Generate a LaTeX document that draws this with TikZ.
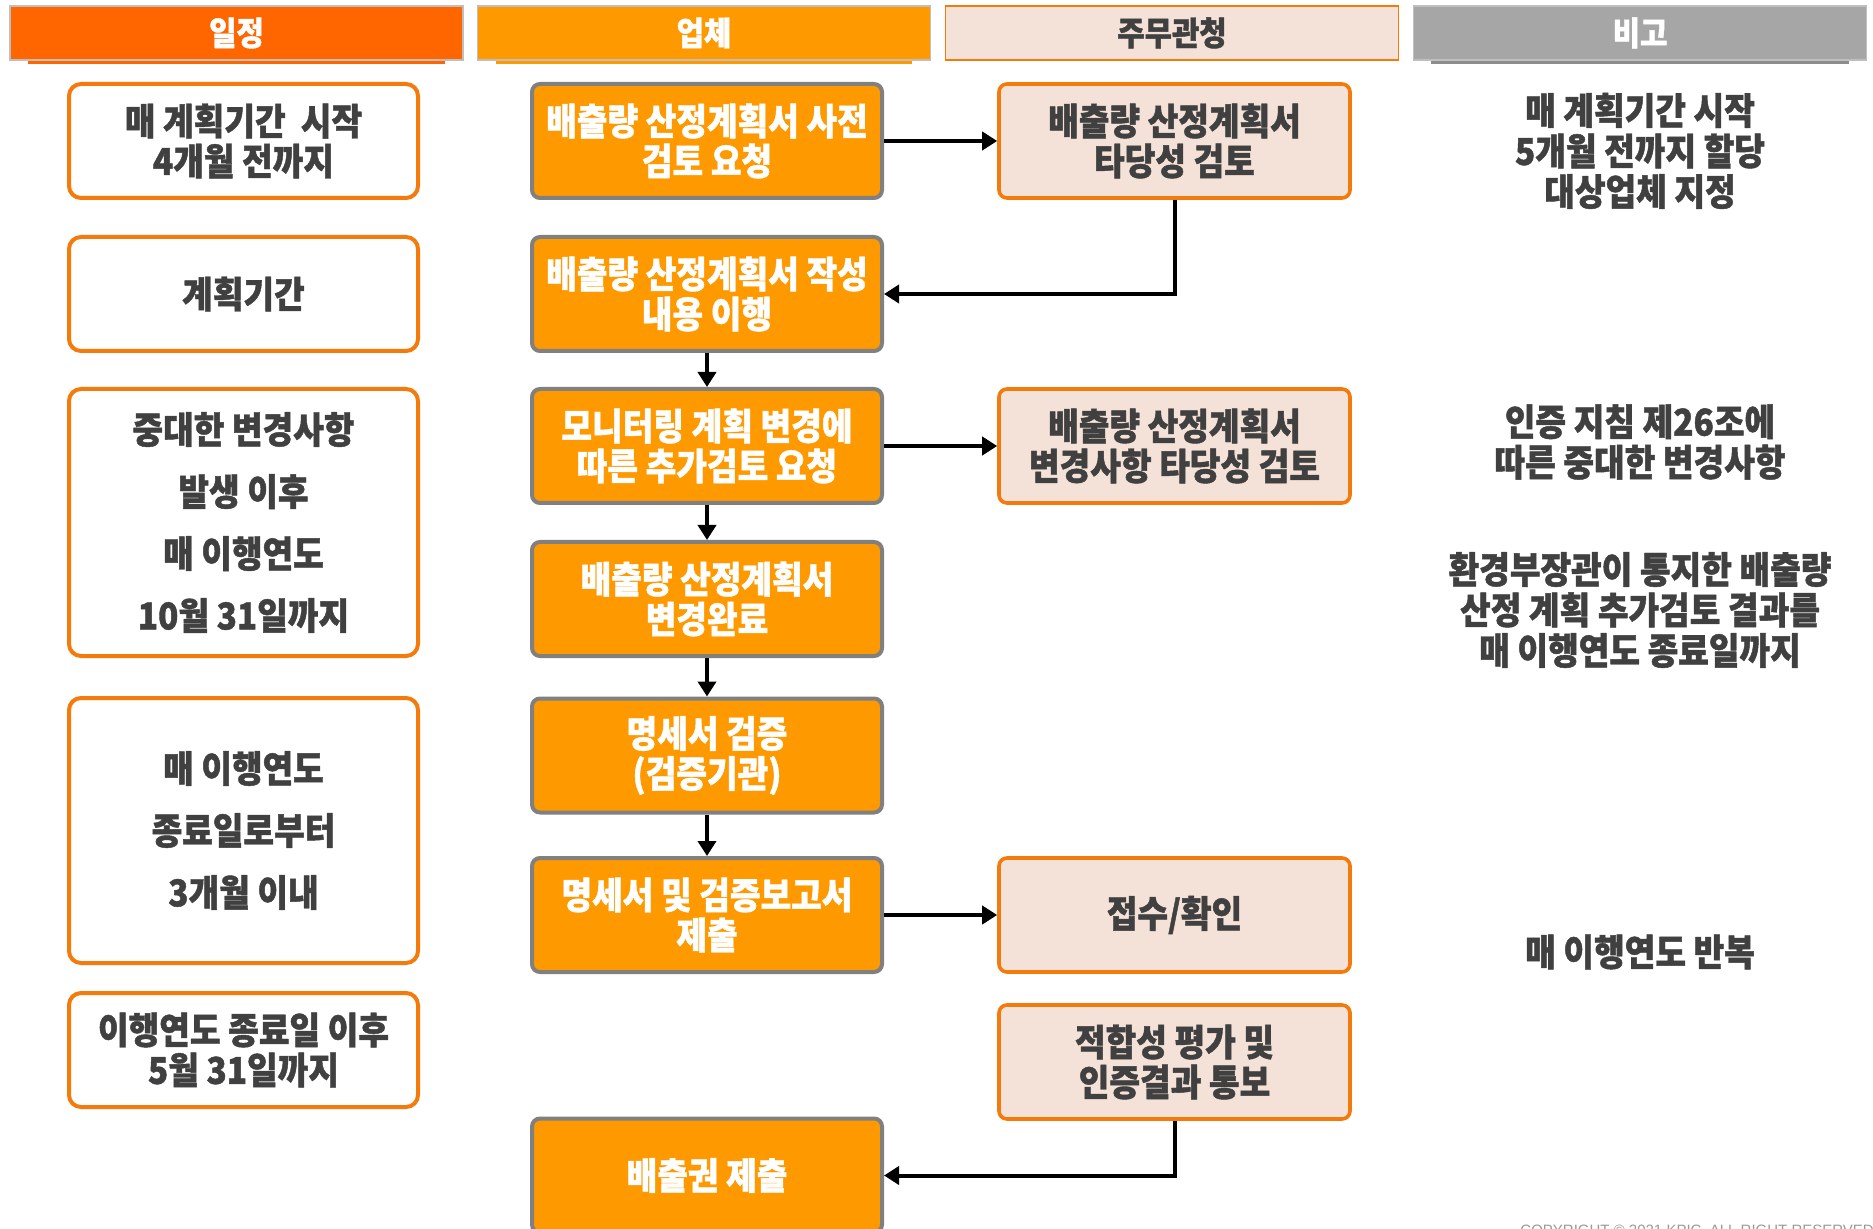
\documentclass[tikz,border=0pt]{standalone}
\usepackage{fontspec}
\setmainfont{Noto Sans CJK KR}[FakeStretch=0.9, BoldFeatures={FakeBold=1.2}]
\newfontfamily\latfont{Liberation Sans}
\usetikzlibrary{arrows.meta}
\definecolor{hdrA}{HTML}{FF6600}
\definecolor{amber}{HTML}{FF9900}
\definecolor{pinkF}{HTML}{F4E2D8}
\definecolor{lineO}{HTML}{F57A0C}
\definecolor{grayB}{HTML}{808080}
\definecolor{darkT}{HTML}{404040}
\definecolor{hdrG}{HTML}{A6A6A6}
\definecolor{hdrLine}{HTML}{BFBFBF}
\tikzset{
  hdr/.style={minimum width=226.5pt, minimum height=27pt, inner sep=0pt, line width=0.6pt,
    font=\fontsize{16.5}{18}\selectfont\bfseries},
  lbox/.style={draw=lineO, line width=2pt, fill=white, rounded corners=6pt,
    minimum width=174.5pt, minimum height=57pt, inner sep=0pt, align=center, text=darkT,
    font=\fontsize{18.5}{20}\selectfont\bfseries},
  lboxtall/.style={lbox, font=\fontsize{18.5}{31}\selectfont\bfseries},
  mbox/.style={draw=grayB, line width=2pt, fill=amber, rounded corners=4pt,
    minimum width=175pt, minimum height=57pt, inner sep=0pt, align=center, text=white,
    font=\fontsize{18.5}{20}\selectfont\bfseries},
  rbox/.style={draw=lineO, line width=1.8pt, fill=pinkF, rounded corners=4pt,
    minimum width=175.5pt, minimum height=57pt, inner sep=0pt, align=center, text=darkT,
    font=\fontsize{18.5}{20}\selectfont\bfseries},
  note/.style={align=center, text=darkT, inner sep=0pt,
    font=\fontsize{18.5}{20.25}\selectfont\bfseries},
  arr/.style={line width=2pt, -{Triangle[length=7.5pt,width=9pt]}},
}
\begin{document}
\begin{tikzpicture}[x=0.5pt,y=-0.5pt]
\useasboundingbox (0,0) rectangle (1873,1229);
\fill[white] (0,0) rectangle (1873,1229);
% header shadows
\fill[hdrA] (28,56) rectangle (445,64);
\fill[amber] (496,56) rectangle (912,64);
\fill[grayB!90] (1431,56) rectangle (1849,64);
% headers
\node[hdr, fill=hdrA, draw=hdrLine, text=white] (h1) at (236.5,33) {일정};
\node[hdr, fill=amber, draw=hdrLine, text=white] (h2) at (704,33) {업체};
\node[hdr, fill=pinkF, draw=lineO, text=darkT] (h3) at (1172,33) {주무관청};
\node[hdr, fill=hdrG, draw=hdrLine, text=white] (h4) at (1640,33) {비고};
% left column
\node[lbox] (l1) at (243.5,141) {매 계획기간\ \ 시작\\4개월 전까지};
\node[lbox] (l2) at (243.5,294) {계획기간};
\node[lboxtall, minimum height=133.5pt] (l3) at (243.5,522.5) {중대한 변경사항\\발생 이후\\매 이행연도\\10월 31일까지};
\node[lboxtall, minimum height=132.5pt] (l4) at (243.5,830.5) {매 이행연도\\종료일로부터\\3개월 이내};
\node[lbox] (l5) at (243.5,1050) {이행연도 종료일 이후\\5월 31일까지};
% middle column
\node[mbox] (m1) at (707,141) {배출량 산정계획서 사전\\검토 요청};
\node[mbox] (m2) at (707,294) {배출량 산정계획서 작성\\내용 이행};
\node[mbox] (m3) at (707,446) {모니터링 계획 변경에\\따른 추가검토 요청};
\node[mbox] (m4) at (707,599) {배출량 산정계획서\\변경완료};
\node[mbox] (m5) at (707,755.5) {명세서 검증\\(검증기관)};
\node[mbox] (m6) at (707,915) {명세서 및 검증보고서\\제출};
\node[mbox] (m7) at (707,1175.5) {배출권 제출};
% right column
\node[rbox] (r1) at (1174.5,141) {배출량 산정계획서\\타당성 검토};
\node[rbox] (r2) at (1174.5,446) {배출량 산정계획서\\변경사항 타당성 검토};
\node[rbox] (r3) at (1174.5,915) {접수/확인};
\node[rbox] (r4) at (1174.5,1062) {적합성 평가 및\\인증결과 통보};
% notes
\node[note] (n1) at (1640,151) {매 계획기간 시작\\5개월 전까지 할당\\대상업체 지정};
\node[note] (n2) at (1640,442) {인증 지침 제26조에\\따른 중대한 변경사항};
\node[note] (n3) at (1640,610) {환경부장관이 통지한 배출량\\산정 계획 추가검토 결과를\\매 이행연도 종료일까지};
\node[note] (n4) at (1640,952) {매 이행연도 반복};
% copyright
\node[anchor=base west, inner sep=0pt, text=black!40, font=\latfont\fontsize{7.5}{9}\selectfont] (cp) at (1520,1235) {COPYRIGHT © 2021 KPIC. ALL RIGHT RESERVED.};
% arrows
\draw[arr] (m1.east) -- (r1.west);
\draw[arr] (r1.south) |- (m2.east);
\draw[arr] (m2.south) -- (m3.north);
\draw[arr] (m3.east) -- (r2.west);
\draw[arr] (m3.south) -- (m4.north);
\draw[arr] (m4.south) -- (m5.north);
\draw[arr] (m5.south) -- (m6.north);
\draw[arr] (m6.east) -- (r3.west);
\draw[arr] (r4.south) |- (m7.east);
\end{tikzpicture}
\end{document}
